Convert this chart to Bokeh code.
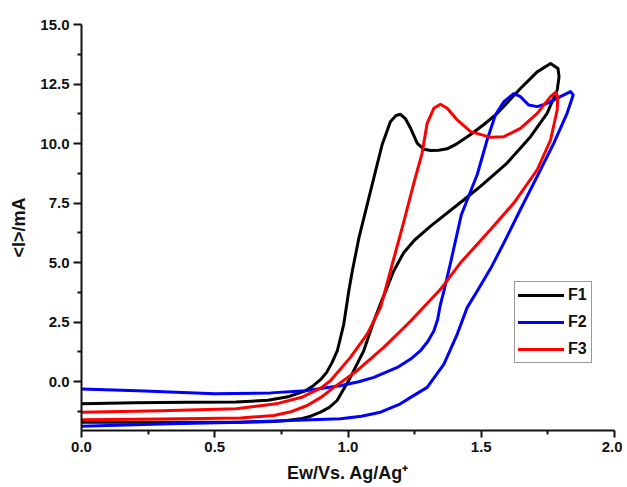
from bokeh.plotting import figure
from bokeh.models import Range1d, FixedTicker, NumeralTickFormatter, Legend, LegendItem
from bokeh.embed import file_html
from bokeh.resources import INLINE

# ---- data ----
f1_x = [0.00, 0.20, 0.40, 0.58, 0.70, 0.78, 0.84, 0.87, 0.90, 0.92, 0.94, 0.96, 0.984, 1.003,
        1.016, 1.041, 1.072, 1.103, 1.128, 1.159, 1.180, 1.197, 1.215, 1.235, 1.260, 1.285,
        1.310, 1.340, 1.372, 1.410, 1.460, 1.510, 1.560, 1.647, 1.710, 1.760, 1.788, 1.792,
        1.785, 1.747, 1.685, 1.597, 1.497, 1.435, 1.310, 1.250, 1.208, 1.171, 1.145, 1.130,
        1.097, 1.059, 1.009, 0.959, 0.930, 0.897, 0.860, 0.822, 0.770, 0.722, 0.597, 0.40, 0.20, 0.00]
f1_y = [-0.93, -0.88, -0.86, -0.85, -0.78, -0.62, -0.38, -0.17, 0.12, 0.39, 0.80, 1.30, 2.41, 3.81,
        4.64, 6.04, 7.44, 8.83, 9.95, 10.92, 11.18, 11.23, 11.05, 10.64, 10.01, 9.76,
        9.71, 9.72, 9.78, 10.00, 10.38, 10.80, 11.27, 12.31, 13.01, 13.36, 13.15, 12.80,
        12.25, 11.27, 10.29, 9.18, 8.20, 7.64, 6.53, 5.95, 5.40, 4.64, 3.90, 3.50,
        2.55, 1.30, 0.18, -0.79, -1.08, -1.28, -1.45, -1.56, -1.63, -1.67, -1.70, -1.70, -1.70, -1.70]

f2_x = [0.00, 0.21, 0.50, 0.71, 0.84, 0.97, 1.040, 1.097, 1.185, 1.235, 1.272, 1.300, 1.322, 1.336,
        1.347, 1.360, 1.385, 1.425, 1.485, 1.522, 1.553, 1.585, 1.622, 1.647, 1.678, 1.710, 1.747,
        1.797, 1.835, 1.845,
        1.822, 1.772, 1.710, 1.647, 1.585, 1.535, 1.485, 1.447, 1.410, 1.360, 1.297, 1.235,
        1.197, 1.122, 1.050, 0.972, 0.597, 0.334, 0.00]
f2_y = [-0.31, -0.38, -0.51, -0.47, -0.38, -0.17, 0.00, 0.18, 0.60, 0.95, 1.30, 1.70, 2.13, 2.60,
        3.25, 3.81, 5.00, 7.00, 8.70, 10.15, 11.20, 11.76, 12.10, 11.97, 11.62, 11.55, 11.69,
        11.97, 12.18, 12.04,
        11.27, 10.01, 8.62, 7.23, 5.83, 4.75, 3.81, 3.11, 2.00, 0.74, -0.24, -0.66,
        -0.93, -1.28, -1.45, -1.56, -1.70, -1.77, -1.87]

f3_x = [0.00, 0.30, 0.58, 0.73, 0.83, 0.90, 0.934, 1.009, 1.072, 1.122, 1.159, 1.209, 1.247,
        1.278, 1.297, 1.322, 1.347, 1.372, 1.410, 1.460, 1.535, 1.585, 1.647, 1.710, 1.760,
        1.779, 1.787,
        1.785, 1.760, 1.710, 1.622, 1.535, 1.422, 1.347, 1.235, 1.197, 1.134, 1.034, 0.947,
        0.900, 0.847, 0.790, 0.722, 0.597, 0.30, 0.00]
f3_y = [-1.28, -1.22, -1.14, -0.93, -0.64, -0.25, 0.04, 1.02, 2.00, 3.11, 4.64, 6.70, 8.34,
        9.59, 10.85, 11.48, 11.65, 11.48, 10.99, 10.50, 10.26, 10.29, 10.64, 11.27, 11.97,
        12.15, 11.97,
        11.41, 10.15, 8.90, 7.50, 6.39, 4.99, 3.88, 2.55, 2.13, 1.44, 0.46, -0.24,
        -0.65, -1.00, -1.25, -1.42, -1.52, -1.57, -1.60]

series_names = ["F1", "F2", "F3"]
series_colors = ["#000000", "#0000FF", "#FF0000"]

x_ticks = [0.0, 0.5, 1.0, 1.5, 2.0]
x_minor = [0.25, 0.75, 1.25, 1.75]
y_ticks = [0.0, 2.5, 5.0, 7.5, 10.0, 12.5, 15.0]
y_minor = [-1.25, 1.25, 3.75, 6.25, 8.75, 11.25, 13.75]

FONT = "Liberation Sans"

p = figure(frame_width=533, frame_height=406, output_backend="svg", toolbar_location=None,
           x_range=Range1d(0.0, 2.0), y_range=Range1d(-2.05, 15.0),
           min_border_left=81, min_border_right=8, min_border_top=24, min_border_bottom=57)
p.outline_line_color = None
p.xgrid.visible = False
p.ygrid.visible = False
p.background_fill_color = "white"
p.border_fill_color = "white"

renderers = []
for xs, ys, c in zip([f1_x, f2_x, f3_x], [f1_y, f2_y, f3_y], series_colors):
    r = p.line(xs, ys, line_color=c, line_width=3, line_join="round", line_cap="round")
    renderers.append(r)

p.xaxis.ticker = FixedTicker(ticks=x_ticks, minor_ticks=x_minor)
p.yaxis.ticker = FixedTicker(ticks=y_ticks, minor_ticks=y_minor)
for ax in (p.xaxis, p.yaxis):
    ax.formatter = NumeralTickFormatter(format="0.0")
    ax.axis_line_width = 2
    ax.axis_line_color = "#111111"
    ax.major_tick_line_width = 2
    ax.minor_tick_line_width = 2
    ax.major_tick_line_color = "#111111"
    ax.minor_tick_line_color = "#111111"
    ax.major_tick_in = 0
    ax.minor_tick_in = 0
    ax.minor_tick_out = 4
    ax.major_label_text_font = FONT
    ax.major_label_text_font_style = "bold"
    ax.major_label_text_font_size = "15px"
    ax.major_label_text_color = "#111111"
    ax.axis_label_text_font = FONT
    ax.axis_label_text_font_style = "bold"
    ax.axis_label_text_font_size = "18px"
    ax.axis_label_text_color = "#111111"

p.xaxis.major_tick_out = 7
p.yaxis.major_tick_out = 8
p.xaxis.major_label_standoff = 4
p.yaxis.major_label_standoff = 4
p.xaxis.axis_label = "Ew/Vs. Ag/Ag\u207a"
p.yaxis.axis_label = "<I>/mA"
p.xaxis.axis_label_standoff = 8
p.yaxis.axis_label_standoff = 8

legend = Legend(items=[LegendItem(label=n, renderers=[r]) for n, r in zip(series_names, renderers)],
                location=(433, 67))
legend.border_line_color = "#333333"
legend.border_line_width = 1
legend.label_text_font = FONT
legend.label_text_font_style = "bold"
legend.label_text_font_size = "16px"
legend.label_text_color = "#111111"
legend.glyph_width = 46
legend.glyph_height = 20
legend.label_height = 20
legend.spacing = 7
legend.padding = 3
legend.margin = 0
legend.label_standoff = 4
p.add_layout(legend)

open("out.html", "w").write(file_html(p, INLINE))
